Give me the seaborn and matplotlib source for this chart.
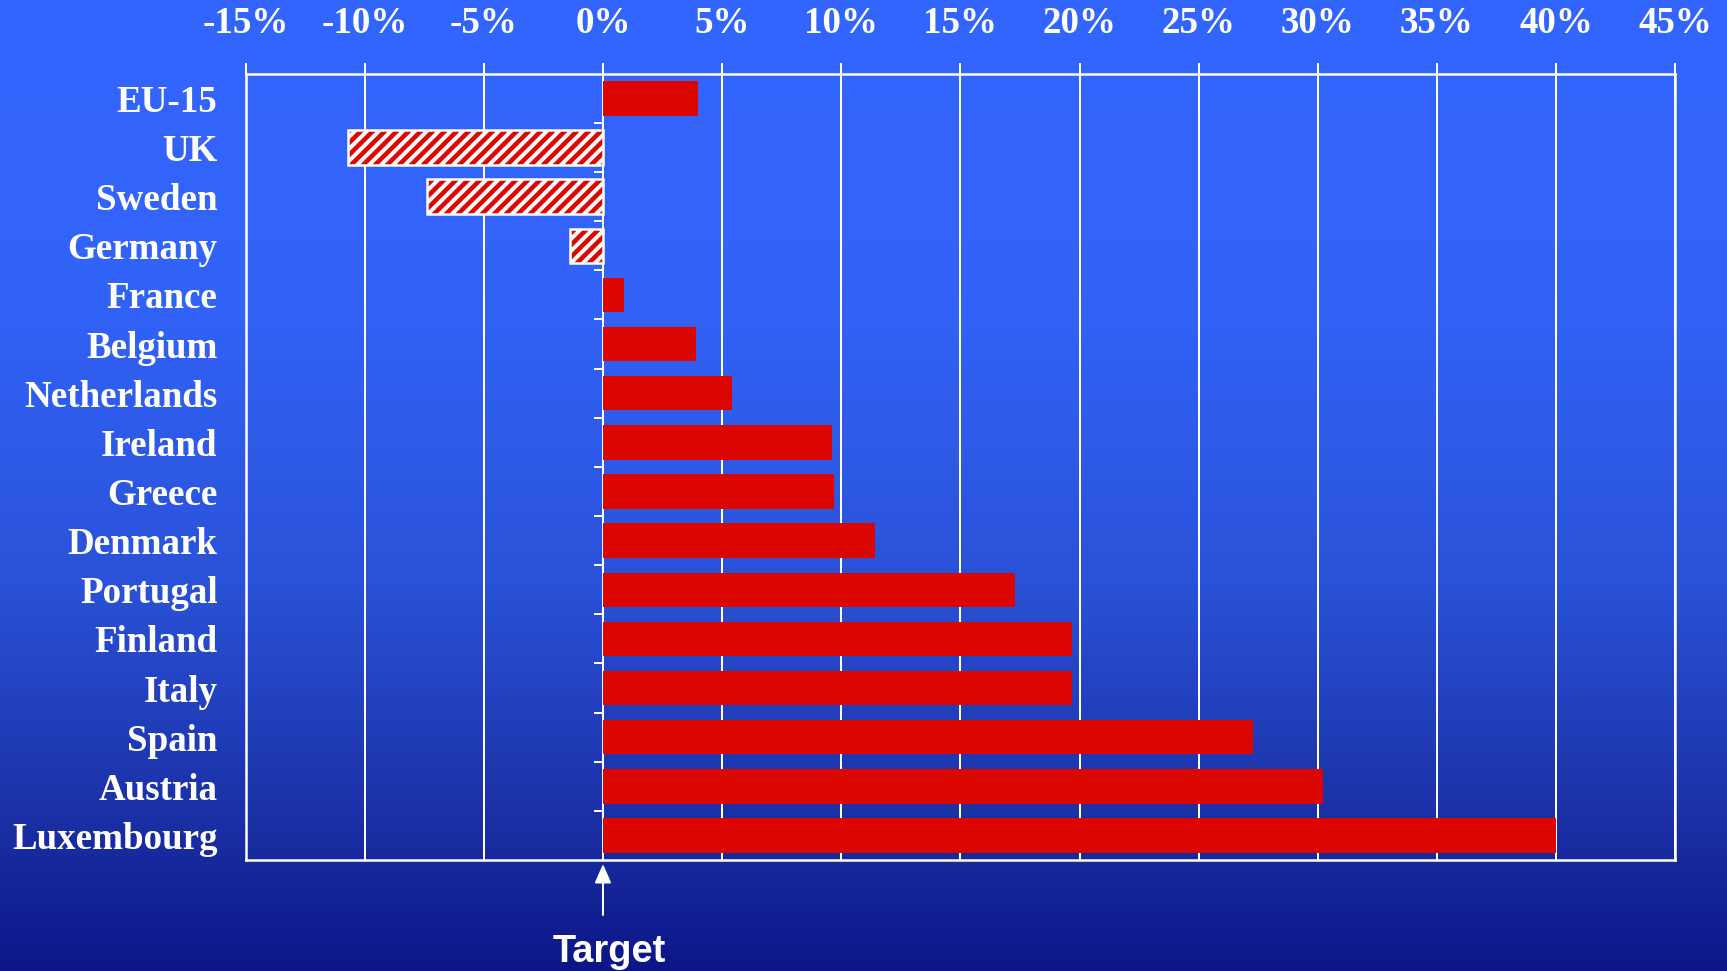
import numpy as np
import matplotlib
matplotlib.use("Agg")
import matplotlib.pyplot as plt
import seaborn as sns
from matplotlib.colors import LinearSegmentedColormap
from matplotlib.patches import Rectangle

# data: change vs Kyoto target (%)
countries = ['EU-15', 'UK', 'Sweden', 'Germany', 'France', 'Belgium',
             'Netherlands', 'Ireland', 'Greece', 'Denmark', 'Portugal',
             'Finland', 'Italy', 'Spain', 'Austria', 'Luxembourg']
changes = [4.0, -10.7, -7.4, -1.4, 0.9, 3.9, 5.4, 9.6, 9.7, 11.4, 17.3,
           19.7, 19.7, 27.3, 30.2, 40.0]
x_ticks = list(range(-15, 50, 5))
x_labels = [f"{v}%" for v in x_ticks]

sns.set_style("white")
plt.rcParams['font.family'] = ['Liberation Serif', 'DejaVu Serif']
plt.rcParams['font.weight'] = 'bold'
plt.rcParams['hatch.linewidth'] = 4.5

red = '#dc0600'

fig = plt.figure(figsize=(1727 / 72, 971 / 72), dpi=72)

# background gradient
bg = fig.add_axes([0, 0, 1, 1], zorder=-1)
grad_cmap = LinearSegmentedColormap.from_list(
    'bg', [(0.0, '#3366ff'), (0.3, '#3263f9'), (0.6, '#2a52d8'),
           (0.85, '#1a2fa4'), (1.0, '#0c1688')])
bg.imshow(np.linspace(0, 1, 256).reshape(-1, 1), aspect='auto',
          cmap=grad_cmap, extent=[0, 1, 0, 1], origin='upper')
bg.axis('off')

ax = fig.add_axes([0.1422, 0.1143, 0.970 - 0.1422, 0.924 - 0.1143])
ax.set_facecolor('none')

sns.barplot(x=changes, y=countries, orient='h', color=red, saturation=1,
            width=0.7, linewidth=0, ax=ax)

# negative bars: hatched with white outline
for p in ax.patches:
    if p.get_width() < 0:
        p.set_facecolor('white')
        p.set_edgecolor(red)
        p.set_hatch('//')
        p.set_linewidth(0)
        ax.add_patch(Rectangle(p.get_xy(), p.get_width(), p.get_height(),
                               fill=False, edgecolor='white', lw=2.5,
                               zorder=p.get_zorder() + 0.1))

ax.set_xlim(-15, 45)
ax.set_xticks(x_ticks)
ax.set_xticklabels(x_labels)
ax.xaxis.tick_top()
ax.tick_params(axis='x', direction='out', length=11, width=2,
               color='white', labelcolor='white', labelsize=37, pad=22)
ax.tick_params(axis='y', length=0, labelcolor='white', labelsize=37, pad=28)
ax.grid(axis='x', color='white', lw=2)
ax.set_axisbelow(True)
ax.set_xlabel('')
ax.set_ylabel('')
for s in ax.spines.values():
    s.set_color('white')
    s.set_linewidth(2.5)
    s.set_visible(True)

# category ticks on the zero line
sec = ax.secondary_yaxis(0, transform=ax.transData)
sec.set_yticks(np.arange(1, len(countries)) - 0.5)
sec.tick_params(axis='y', length=9, width=2, color='white', labelleft=False)
sec.spines['left'].set_color('white')
sec.spines['left'].set_linewidth(2)

# target arrow and label
ax.annotate('', xy=(0, 0), xycoords=('data', 'axes fraction'),
            xytext=(0, -55), textcoords='offset points',
            arrowprops=dict(arrowstyle='-|>,head_length=0.8,head_width=0.35',
                            color='white', lw=2, mutation_scale=20,
                            shrinkA=0, shrinkB=4))
ax.annotate('Target', xy=(0, 0), xycoords=('data', 'axes fraction'),
            xytext=(6, -92), textcoords='offset points',
            ha='center', va='center', color='white', fontsize=38,
            family='Liberation Sans', weight='bold')

fig.savefig('out.png', dpi=72)
